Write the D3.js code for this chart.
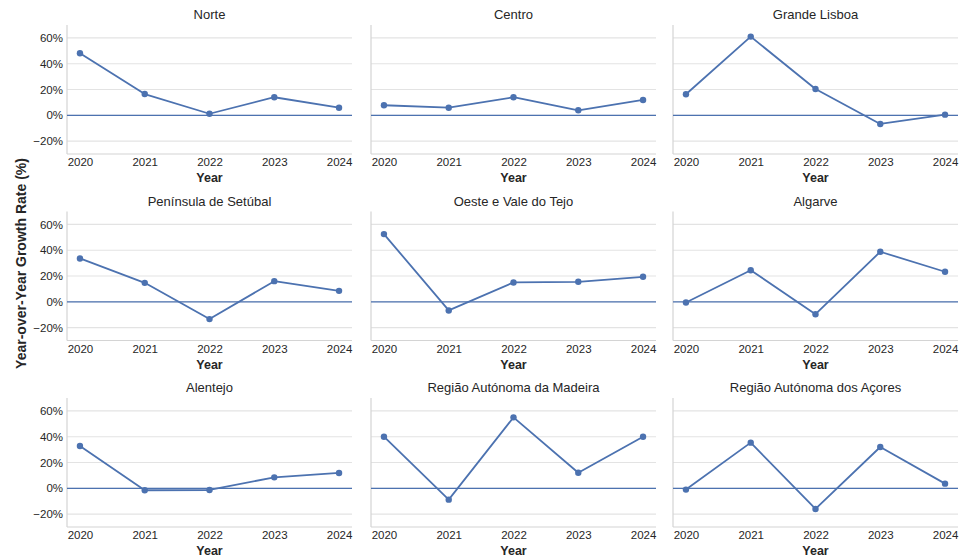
<!DOCTYPE html>
<html>
<head>
<meta charset="utf-8">
<script src="https://cdn.jsdelivr.net/npm/d3@7"></script>
<style>
  html, body { margin: 0; padding: 0; background: #fff; }
  svg { display: block; font-family: "Liberation Sans", Arial, sans-serif; }
</style>
</head>
<body>
<svg id="chart" width="963" height="557"></svg>
<script>
// Year-over-year growth rate (%) by NUTS II region of Portugal
const years = [2020, 2021, 2022, 2023, 2024];
const regions = [
  "Norte", "Centro", "Grande Lisboa",
  "Península de Setúbal", "Oeste e Vale do Tejo", "Algarve",
  "Alentejo", "Região Autónoma da Madeira", "Região Autónoma dos Açores"
];
const norte     = [48.1, 16.5, 1.2, 14.0, 5.9];
const centro    = [7.8, 5.9, 14.0, 3.9, 11.9];
const lisboa    = [16.3, 61.0, 20.4, -6.7, 0.5];
const setubal   = [33.6, 14.7, -13.4, 16.0, 8.5];
const oeste     = [52.5, -6.7, 15.0, 15.5, 19.4];
const algarve   = [-0.5, 24.5, -9.6, 38.8, 23.3];
const alentejo  = [32.8, -1.5, -1.3, 8.5, 11.9];
const madeira   = [40.0, -8.8, 55.0, 12.1, 40.0];
const acores    = [-1.0, 35.4, -16.0, 32.0, 3.6];
const seriesByRegion = [norte, centro, lisboa, setubal, oeste, algarve, alentejo, madeira, acores];
const yTicks = [-20, 0, 20, 40, 60];
const yDomain = [-30, 70];

const svg = d3.select("#chart");
const blue = "#4c72b0";
const textColor = "#262626";

const colLeft = [67, 371, 673];
const rowTop = [25, 211.5, 398];
const panelW = 285, panelH = 129;

const x = d3.scaleLinear().domain([2019.8, 2024.2]).range([0, panelW]);
const y = d3.scaleLinear().domain(yDomain).range([panelH, 0]);

regions.forEach((name, i) => {
  const col = i % 3, row = Math.floor(i / 3);
  const g = svg.append("g").attr("transform", `translate(${colLeft[col]},${rowTop[row]})`);
  const vals = seriesByRegion[i];

  // horizontal grid
  g.append("g").selectAll("line").data(yTicks).join("line")
    .attr("x1", 0).attr("x2", panelW)
    .attr("y1", d => y(d)).attr("y2", d => y(d))
    .attr("stroke", "#e3e3e3").attr("stroke-width", 1.1);

  // spines
  g.append("line").attr("x1", 0).attr("x2", 0).attr("y1", 0).attr("y2", panelH)
    .attr("stroke", "#d4d4d4").attr("stroke-width", 1.2);
  g.append("line").attr("x1", 0).attr("x2", panelW).attr("y1", panelH).attr("y2", panelH)
    .attr("stroke", "#d4d4d4").attr("stroke-width", 1.2);

  // x axis
  const xAxis = g.append("g").attr("transform", `translate(0,${panelH})`)
    .call(d3.axisBottom(x).tickValues(years).tickFormat(d3.format("d")).tickSize(0).tickPadding(4));
  xAxis.select(".domain").remove();
  xAxis.selectAll("text").attr("font-size", 11.5).attr("fill", textColor)
    .attr("font-family", "Liberation Sans, Arial, sans-serif");

  // y axis labels only on the first column
  if (col === 0) {
    const yAxis = g.append("g")
      .call(d3.axisLeft(y).tickValues(yTicks).tickFormat(d => (d < 0 ? "\u2212" + Math.abs(d) : d) + "%").tickSize(0).tickPadding(4));
    yAxis.select(".domain").remove();
    yAxis.selectAll("text").attr("font-size", 11.5).attr("fill", textColor)
      .attr("font-family", "Liberation Sans, Arial, sans-serif");
  }

  // zero reference line
  g.append("line").attr("x1", 0).attr("x2", panelW).attr("y1", y(0)).attr("y2", y(0))
    .attr("stroke", blue).attr("stroke-width", 1.2);

  // series line + markers
  const pts = years.map((yr, k) => ({ yr, v: vals[k] }));
  g.append("path").datum(pts)
    .attr("fill", "none").attr("stroke", blue).attr("stroke-width", 1.8)
    .attr("stroke-linejoin", "round")
    .attr("d", d3.line().x(d => x(d.yr)).y(d => y(d.v)));
  g.append("g").selectAll("circle").data(pts).join("circle")
    .attr("cx", d => x(d.yr)).attr("cy", d => y(d.v)).attr("r", 3.2)
    .attr("fill", blue);

  // panel title
  g.append("text").attr("x", panelW / 2).attr("y", -6)
    .attr("text-anchor", "middle").attr("font-size", 13).attr("fill", textColor)
    .text(name);

  // x axis title
  g.append("text").attr("x", panelW / 2).attr("y", panelH + 28)
    .attr("text-anchor", "middle").attr("font-size", 12.5).attr("font-weight", "bold").attr("fill", textColor)
    .text("Year");
});

// shared y axis title
svg.append("text")
  .attr("transform", "translate(26,263.5) rotate(-90)")
  .attr("text-anchor", "middle").attr("font-size", 14).attr("font-weight", "bold").attr("fill", textColor)
  .text("Year-over-Year Growth Rate (%)");
</script>
</body>
</html>
